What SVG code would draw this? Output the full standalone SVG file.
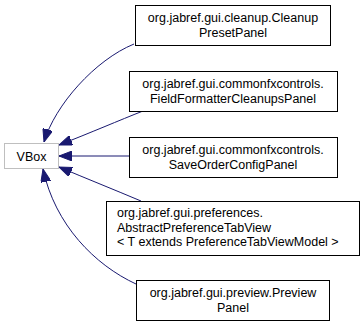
<svg xmlns="http://www.w3.org/2000/svg" width="364" height="327" viewBox="0 0 364 327">
  <style>
    .node rect { fill: #ffffff; stroke: #000000; stroke-width: 1; }
    .base rect { fill: #ffffff; stroke: #bfbfbf; stroke-width: 1; }
    text { font-family: "Liberation Sans", Arial, sans-serif; font-size: 12.5px; fill: #000000; }
    .c { text-anchor: middle; }
    .edge { fill: none; stroke: #191970; stroke-width: 1; marker-end: url(#arrow); }
  </style>
  <defs>
    <marker id="arrow" viewBox="0 0 13 10" refX="13" refY="5" markerWidth="13" markerHeight="10" markerUnits="userSpaceOnUse" orient="auto">
      <path d="M0,0 L13,5 L0,10 Z" fill="#191970" stroke="#191970"/>
    </marker>
  </defs>

  <rect width="364" height="327" fill="#ffffff"/>

  <!-- inheritance connectors -->
  <g id="edges">
    <path class="edge" d="M134,44 C95,60 55,105 44,142"/>
    <path class="edge" d="M143,111 C120,120 90,133 59,145"/>
    <path class="edge" d="M129,156 L59,156"/>
    <path class="edge" d="M141,201 C115,190 85,178 59,167"/>
    <path class="edge" d="M136,284 C95,265 55,225 43,169"/>
  </g>

  <g id="node-vbox" class="base">
    <rect x="4.5" y="143.5" width="54" height="25"/>
    <text class="c" x="31.5" y="160.5">VBox</text>
  </g>

  <g id="node-cleanup-preset-panel" class="node">
    <rect x="135.5" y="5.5" width="195" height="40"/>
    <text class="c" x="233" y="22">org.jabref.gui.cleanup.Cleanup</text>
    <text class="c" x="233" y="36.5">PresetPanel</text>
  </g>

  <g id="node-field-formatter-cleanups-panel" class="node">
    <rect x="129.5" y="71.5" width="208" height="40"/>
    <text class="c" x="233" y="88">org.jabref.gui.commonfxcontrols.</text>
    <text class="c" x="233" y="102.5">FieldFormatterCleanupsPanel</text>
  </g>

  <g id="node-save-order-config-panel" class="node">
    <rect x="129.5" y="137.5" width="208" height="40"/>
    <text class="c" x="233" y="154">org.jabref.gui.commonfxcontrols.</text>
    <text class="c" x="233" y="168.5">SaveOrderConfigPanel</text>
  </g>

  <g id="node-abstract-preference-tab-view" class="node">
    <rect x="106.5" y="201.5" width="253" height="54"/>
    <text x="117" y="217">org.jabref.gui.preferences.</text>
    <text x="117" y="231.5">AbstractPreferenceTabView</text>
    <text x="117" y="246">&lt; T extends PreferenceTabViewModel &gt;</text>
  </g>

  <g id="node-preview-panel" class="node">
    <rect x="136.5" y="280.5" width="193" height="40"/>
    <text class="c" x="233" y="297">org.jabref.gui.preview.Preview</text>
    <text class="c" x="233" y="311.5">Panel</text>
  </g>
</svg>
